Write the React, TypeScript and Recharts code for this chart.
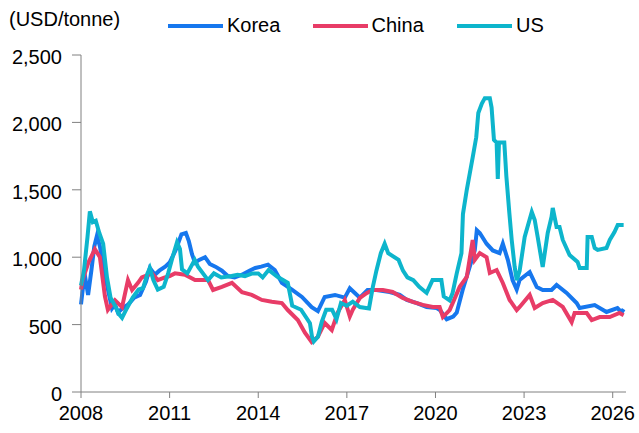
import { LineChart, Line, XAxis, YAxis } from 'recharts'

// [year, USD/tonne]
const KOREA: [number, number][] = [
  [2008.0, 650], [2008.08, 800], [2008.15, 840], [2008.24, 720], [2008.35, 900], [2008.45, 1080],
  [2008.54, 1160], [2008.64, 1080], [2008.78, 900], [2008.95, 720], [2009.05, 620], [2009.15, 650],
  [2009.25, 590], [2009.4, 620], [2009.6, 650], [2009.8, 700], [2010.0, 720], [2010.2, 820],
  [2010.33, 920], [2010.5, 870], [2010.65, 900], [2010.85, 930], [2011.0, 960], [2011.2, 1050],
  [2011.4, 1170], [2011.55, 1180], [2011.65, 1120], [2011.76, 1020], [2011.86, 960], [2012.0, 980],
  [2012.2, 1000], [2012.36, 950], [2012.55, 930], [2012.77, 900], [2012.97, 860], [2013.2, 850],
  [2013.45, 870], [2013.7, 900], [2013.9, 920], [2014.1, 930], [2014.33, 945], [2014.56, 905],
  [2014.8, 810], [2015.14, 760], [2015.48, 705], [2015.81, 630], [2016.02, 600], [2016.25, 705],
  [2016.6, 720], [2016.93, 700], [2017.1, 770], [2017.27, 735], [2017.44, 700], [2017.7, 757],
  [2018.0, 757], [2018.45, 742], [2018.79, 720], [2019.03, 683], [2019.37, 660], [2019.7, 631],
  [2020.04, 623], [2020.15, 608], [2020.38, 540], [2020.6, 560], [2020.72, 590], [2020.92, 757],
  [2021.16, 930], [2021.33, 1050], [2021.4, 1200], [2021.5, 1180], [2021.73, 1100], [2021.94, 1050],
  [2022.17, 1030], [2022.28, 1100], [2022.45, 980], [2022.61, 830], [2022.75, 760], [2022.85, 831],
  [2023.19, 890], [2023.43, 779], [2023.63, 757], [2023.93, 757], [2024.1, 794], [2024.44, 735],
  [2024.78, 660], [2024.88, 623], [2025.39, 645], [2025.79, 594], [2026.16, 623], [2026.3, 590],
  [2026.37, 615],
]

const CHINA: [number, number][] = [
  [2008.0, 760], [2008.05, 830], [2008.25, 960], [2008.47, 1060], [2008.64, 1000], [2008.81, 710],
  [2008.91, 610], [2009.15, 680], [2009.39, 630], [2009.59, 830], [2009.73, 757], [2009.93, 810],
  [2010.06, 850], [2010.4, 880], [2010.6, 830], [2010.84, 850], [2011.0, 860], [2011.18, 880],
  [2011.52, 870], [2011.86, 830], [2012.3, 830], [2012.47, 757], [2012.77, 780], [2013.11, 810],
  [2013.45, 740], [2013.78, 720], [2014.12, 683], [2014.46, 670], [2014.8, 660], [2015.0, 608],
  [2015.34, 534], [2015.58, 440], [2015.81, 371], [2016.02, 410], [2016.25, 512], [2016.49, 460],
  [2016.69, 590], [2016.93, 683], [2017.1, 560], [2017.2, 610], [2017.44, 698], [2017.68, 735],
  [2017.88, 757], [2018.22, 757], [2018.55, 742], [2018.89, 698], [2019.23, 668], [2019.57, 646],
  [2019.91, 631], [2020.14, 631], [2020.25, 556], [2020.48, 608], [2020.82, 780], [2021.06, 853],
  [2021.26, 1128], [2021.33, 980], [2021.5, 1030], [2021.73, 1000], [2021.84, 883], [2022.07, 905],
  [2022.28, 809], [2022.51, 683], [2022.75, 608], [2022.85, 631], [2023.19, 720], [2023.36, 623],
  [2023.63, 660], [2023.97, 683], [2024.31, 631], [2024.61, 519], [2024.71, 586], [2025.12, 586],
  [2025.29, 534], [2025.56, 556], [2025.9, 556], [2026.23, 586], [2026.37, 570],
]

const US: [number, number][] = [
  [2008.0, 790], [2008.1, 900], [2008.22, 1150], [2008.3, 1340], [2008.4, 1260], [2008.5, 1270],
  [2008.62, 1180], [2008.75, 1100], [2008.88, 850], [2009.0, 700], [2009.15, 640], [2009.28, 580],
  [2009.39, 550], [2009.55, 620], [2009.75, 700], [2009.95, 760], [2010.1, 770], [2010.25, 880],
  [2010.33, 920], [2010.45, 830], [2010.6, 760], [2010.8, 780], [2010.95, 880], [2011.1, 1000],
  [2011.25, 1110], [2011.35, 1060], [2011.42, 910], [2011.6, 880], [2011.85, 980], [2011.96, 930],
  [2012.3, 830], [2012.5, 880], [2012.75, 850], [2013.1, 860], [2013.3, 870], [2013.55, 860],
  [2013.8, 880], [2014.0, 880], [2014.15, 850], [2014.35, 905], [2014.65, 855], [2015.0, 810],
  [2015.15, 640], [2015.45, 610], [2015.75, 510], [2015.82, 410], [2015.88, 375], [2016.02, 410],
  [2016.15, 520], [2016.3, 610], [2016.5, 610], [2016.65, 540], [2016.8, 660], [2017.0, 640],
  [2017.2, 670], [2017.44, 630], [2017.75, 620], [2017.88, 780], [2018.0, 900], [2018.15, 1030],
  [2018.28, 1100], [2018.4, 1030], [2018.75, 980], [2018.9, 900], [2019.05, 850], [2019.25, 830],
  [2019.45, 780], [2019.7, 735], [2019.9, 830], [2020.05, 830], [2020.2, 830], [2020.28, 710],
  [2020.48, 680], [2020.58, 735], [2020.72, 880], [2020.88, 1030], [2020.93, 1320], [2021.06, 1500],
  [2021.16, 1620], [2021.26, 1740], [2021.38, 1890], [2021.45, 2070], [2021.57, 2140], [2021.67, 2180],
  [2021.84, 2180], [2021.9, 2110], [2021.98, 1870], [2022.07, 1850], [2022.11, 1580], [2022.15, 1850],
  [2022.33, 1850], [2022.4, 1600], [2022.5, 1330], [2022.58, 1130], [2022.68, 930], [2022.75, 830],
  [2022.85, 900], [2023.02, 1150], [2023.26, 1336], [2023.36, 1276], [2023.46, 1150], [2023.63, 927],
  [2023.8, 1180], [2023.93, 1300], [2023.97, 1365], [2024.1, 1224], [2024.2, 1224], [2024.31, 1128],
  [2024.54, 1016], [2024.81, 965], [2024.88, 920], [2025.12, 920], [2025.15, 1150], [2025.29, 1150],
  [2025.39, 1068], [2025.49, 1054], [2025.79, 1068], [2025.9, 1128], [2026.06, 1187], [2026.17, 1239],
  [2026.37, 1239],
]

const X_TICKS = [2008, 2011, 2014, 2017, 2020, 2023, 2026]
const Y_TICKS = [0, 500, 1000, 1500, 2000, 2500]

const SERIES = [
  { name: 'Korea', color: '#1677ee', points: KOREA },
  { name: 'China', color: '#e83c67', points: CHINA },
  { name: 'US', color: '#0db5cc', points: US },
]

const FONT = '"Liberation Sans", Arial, sans-serif'
const AXIS = '#808080'

function toRows(points: [number, number][]) {
  return points.map(([year, value]) => ({ year, value }))
}

function YTick({ x, y, payload }: any) {
  return (
    <text x={x} y={y} dy={9} textAnchor="end" fill="#000" fontSize={20} fontFamily={FONT}>
      {payload.value.toLocaleString('en-US')}
    </text>
  )
}

function XTick({ x, y, payload }: any) {
  return (
    <text x={x} y={y} dy={16} textAnchor="middle" fill="#000" fontSize={20} fontFamily={FONT}>
      {payload.value}
    </text>
  )
}

function LegendBox() {
  return (
    <div
      style={{
        position: 'absolute',
        left: 168,
        top: 14,
        display: 'flex',
        fontFamily: FONT,
        fontSize: 20,
        color: '#000',
      }}
    >
      {SERIES.map((s) => (
        <div key={s.name} style={{ width: 144.5, display: 'flex', alignItems: 'center' }}>
          <span style={{ width: 55, height: 4, background: s.color, marginRight: 4 }} />
          <span>{s.name}</span>
        </div>
      ))}
    </div>
  )
}

export default function App() {
  return (
    <div style={{ position: 'absolute', left: 0, top: 0, width: 639, height: 433, background: '#fff' }}>
      <div
        style={{
          position: 'absolute',
          left: 9,
          top: 8,
          fontFamily: FONT,
          fontSize: 20,
          color: '#000',
        }}
      >
        (USD/tonne)
      </div>
      <LegendBox />
      <LineChart width={639} height={433} margin={{ top: 55, right: 13, bottom: 11, left: 8 }}>
        <XAxis
          dataKey="year"
          type="number"
          domain={[2008, 2026.45]}
          ticks={X_TICKS}
          allowDuplicatedCategory={false}
          stroke={AXIS}
          tickSize={6}
          tickMargin={6}
          height={30}
          tick={<XTick />}
        />
        <YAxis
          type="number"
          domain={[0, 2500]}
          ticks={Y_TICKS}
          stroke={AXIS}
          tickSize={9}
          tickMargin={10}
          width={73}
          tick={<YTick />}
        />
        {SERIES.map((s) => (
          <Line
            key={s.name}
            name={s.name}
            data={toRows(s.points)}
            dataKey="value"
            type="linear"
            stroke={s.color}
            strokeWidth={4}
            dot={false}
            activeDot={false}
            isAnimationActive={false}
          />
        ))}
      </LineChart>
    </div>
  )
}
